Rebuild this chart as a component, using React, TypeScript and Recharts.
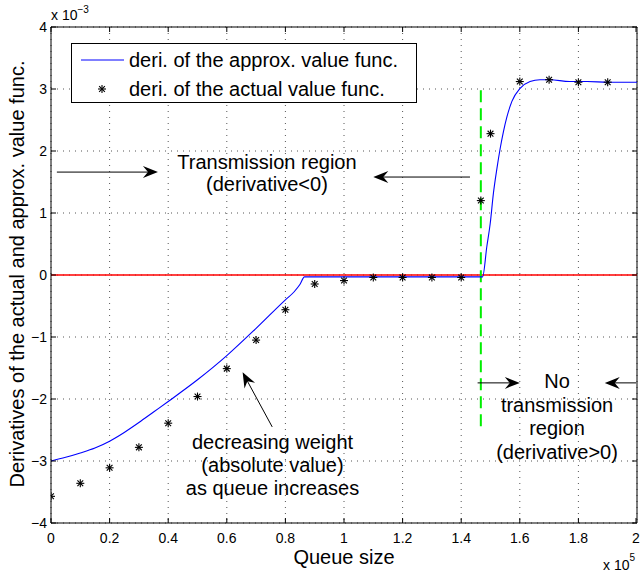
import React from "react";
import {
  CartesianGrid,
  ComposedChart,
  Legend,
  Line,
  ReferenceDot,
  ReferenceLine,
  Scatter,
  XAxis,
  YAxis
} from "recharts";

// queue size in units of 1e5, derivative in units of 1e-3
const approxQueue = [0, 0.05, 0.1, 0.15, 0.2, 0.25, 0.3, 0.35, 0.4, 0.5, 0.6, 0.7, 0.8, 0.83, 0.85, 0.865, 1.0, 1.2, 1.4, 1.473, 1.4875, 1.499, 1.51, 1.522, 1.533, 1.544, 1.556, 1.573, 1.601, 1.635, 1.669, 1.703, 1.77, 1.83, 1.9, 2.0];
const approxDeriv = [-3.0, -2.94, -2.87, -2.79, -2.68, -2.54, -2.38, -2.21, -2.04, -1.69, -1.3, -0.86, -0.4, -0.27, -0.15, -0.03, -0.03, -0.03, -0.03, -0.03, 0.46, 0.83, 1.32, 1.72, 2.04, 2.31, 2.55, 2.8, 3.01, 3.12, 3.15, 3.15, 3.12, 3.12, 3.11, 3.11];

const actualQueue = [0, 0.1, 0.2, 0.3, 0.4, 0.5, 0.6, 0.7, 0.8, 0.9, 1.0, 1.1, 1.2, 1.3, 1.4, 1.467, 1.5, 1.6, 1.7, 1.8, 1.9];
const actualDeriv = [-3.57, -3.36, -3.11, -2.78, -2.39, -1.96, -1.51, -1.05, -0.56, -0.145, -0.09, -0.04, -0.04, -0.04, -0.04, 1.2, 2.28, 3.12, 3.15, 3.11, 3.11];

const xTicks = [0, 0.2, 0.4, 0.6, 0.8, 1, 1.2, 1.4, 1.6, 1.8, 2];
const yTicks = [-4, -3, -2, -1, 0, 1, 2, 3, 4];

const threshold = 1.467;

const approxData = approxQueue.map((x, i) => ({ x, y: approxDeriv[i] }));
const actualData = actualQueue.map((x, i) => ({ x, y: actualDeriv[i] }));

const FONT = "'Liberation Sans', Arial, Helvetica, sans-serif";
const PLOT = { left: 51, top: 27, right: 637, bottom: 523 };

const Star = ({ cx, cy }: any) => {
  const r = 4;
  const d = r * 0.72;
  return (
    <g stroke="#000" strokeWidth={1.1}>
      <line x1={cx - r} y1={cy} x2={cx + r} y2={cy} />
      <line x1={cx} y1={cy - r} x2={cx} y2={cy + r} />
      <line x1={cx - d} y1={cy - d} x2={cx + d} y2={cy + d} />
      <line x1={cx - d} y1={cy + d} x2={cx + d} y2={cy - d} />
    </g>
  );
};

const fmt = (v: number) => (v < 0 ? "\u2212" + Math.abs(v) : String(v));

const XTick = (props: any) => {
  const { x, payload } = props;
  return (
    <g>
      <line x1={x} y1={PLOT.bottom} x2={x} y2={PLOT.bottom - 5} stroke="#000" />
      <line x1={x} y1={PLOT.top} x2={x} y2={PLOT.top + 5} stroke="#000" />
      <text x={x} y={PLOT.bottom + 15} textAnchor="middle" dominantBaseline="central" fontSize={14} fontFamily={FONT} fill="#000">
        {payload.value}
      </text>
    </g>
  );
};

const YTick = (props: any) => {
  const { y, payload } = props;
  return (
    <g>
      <line x1={PLOT.left} y1={y} x2={PLOT.left + 5} y2={y} stroke="#000" />
      <line x1={PLOT.right} y1={y} x2={PLOT.right - 5} y2={y} stroke="#000" />
      <text x={47} y={y} textAnchor="end" dominantBaseline="central" fontSize={14} fontFamily={FONT} fill="#000">
        {fmt(payload.value)}
      </text>
    </g>
  );
};

const YLabel = () => {
  const cx = 17;
  const cy = 274;
  return (
    <g fontFamily={FONT} fill="#000">
      <text x={cx} y={cy} transform={`rotate(-90 ${cx} ${cy})`} textAnchor="middle" dominantBaseline="central" fontSize={20}>
        Derivatives of the actual and approx. value func.
      </text>
      <text x={51} y={20} fontSize={14}>
        x 10<tspan dy={-7} fontSize={10}>{"\u22123"}</tspan>
      </text>
    </g>
  );
};

const XLabel = () => (
  <g fontFamily={FONT} fill="#000">
    <text x={344} y={557} textAnchor="middle" dominantBaseline="central" fontSize={20}>
      Queue size
    </text>
    <text x={603} y={570} fontSize={14}>
      x 10<tspan dy={-9} fontSize={10}>5</tspan>
    </text>
  </g>
);

const Arrow = (props: any) => {
  const { x1, y1, x2, y2 } = props;
  const a = Math.atan2(y2 - y1, x2 - x1);
  const c = Math.cos(a);
  const s = Math.sin(a);
  const len = 15;
  const half = 6;
  const notch = 10;
  const bx = x2 - len * c;
  const by = y2 - len * s;
  const nx = x2 - notch * c;
  const ny = y2 - notch * s;
  const pts = [
    [x2, y2],
    [bx - half * s, by + half * c],
    [nx, ny],
    [bx + half * s, by - half * c]
  ]
    .map((p) => p.join(","))
    .join(" ");
  return (
    <g>
      <line x1={x1} y1={y1} x2={nx} y2={ny} stroke="#000" strokeWidth={1} />
      <polygon points={pts} fill="#000" />
    </g>
  );
};

const TextBlock = (lines: string[], gap: number) => (props: any) => {
  const { cx, cy } = props;
  return (
    <g fontFamily={FONT} fontSize={20} fill="#000">
      {lines.map((t, i) => (
        <text key={i} x={cx} y={cy + i * gap} textAnchor="middle" dominantBaseline="central">
          {t}
        </text>
      ))}
    </g>
  );
};

const renderLegend = (props: any) => {
  const items = [...(props.payload || [])].sort(
    (a: any, b: any) => (a.type === "line" ? 0 : 1) - (b.type === "line" ? 0 : 1)
  );
  return (
    <div
      style={{
        width: 346,
        height: 60,
        boxSizing: "border-box",
        border: "1px solid #000",
        background: "#fff",
        fontFamily: FONT,
        fontSize: 20,
        position: "relative",
        color: "#000"
      }}
    >
      {items.map((entry: any, i: number) => (
        <div
          key={i}
          style={{ position: "absolute", left: 0, top: i === 0 ? 3 : 32, height: 26, display: "flex", alignItems: "center", whiteSpace: "nowrap" }}
        >
          <svg width={57} height={26}>
            {entry.type === "line" ? (
              <line x1={9} y1={13} x2={52} y2={13} stroke="#0000ff" strokeWidth={1} />
            ) : (
              <Star cx={30} cy={13} />
            )}
          </svg>
          <span>{entry.value}</span>
        </div>
      ))}
    </div>
  );
};

const arrows = [
  { from: { x: 0.02, y: 1.66 }, to: { x: 0.365, y: 1.66 } },
  { from: { x: 1.43, y: 1.58 }, to: { x: 1.1, y: 1.58 } },
  { from: { x: 1.456, y: -1.74 }, to: { x: 1.6, y: -1.74 } },
  { from: { x: 1.997, y: -1.74 }, to: { x: 1.89, y: -1.74 } },
  { from: { x: 0.755, y: -2.45 }, to: { x: 0.654, y: -1.57 } }
];

export default function App() {
  return (
    <div style={{ position: "absolute", left: 0, top: 0, width: 640, height: 577, background: "#fff" }}>
      <ComposedChart width={640} height={577} margin={{ top: 27, right: 3, left: 0, bottom: 0 }}>
        <CartesianGrid stroke="#555" strokeDasharray="1 5" />
        <XAxis
          type="number"
          dataKey="x"
          domain={[0, 2]}
          ticks={xTicks}
          height={54}
          tickLine={false}
          tickSize={0}
          axisLine={{ stroke: "#000" }}
          tick={XTick}
          label={XLabel}
          allowDataOverflow
        />
        <YAxis
          type="number"
          dataKey="y"
          domain={[-4, 4]}
          ticks={yTicks}
          width={51}
          tickLine={false}
          tickSize={0}
          axisLine={{ stroke: "#000" }}
          tick={YTick}
          label={YLabel}
          allowDataOverflow
        />
        <ReferenceLine y={4} stroke="#000" />
        <ReferenceLine x={2} stroke="#000" />
        <ReferenceLine y={0} stroke="#ff0000" strokeWidth={1.6} />
        <ReferenceLine
          segment={[{ x: threshold, y: 2.98 }, { x: threshold, y: -2.5 }]}
          stroke="#00ee00"
          strokeWidth={2}
          strokeDasharray="12 6"
        />
        <Line
          data={approxData}
          dataKey="y"
          name="deri. of the approx. value func."
          type="monotone"
          stroke="#0000ff"
          strokeWidth={1.1}
          dot={false}
          activeDot={false}
          legendType="line"
          isAnimationActive={false}
        />
        <Scatter
          data={actualData}
          dataKey="y"
          name="deri. of the actual value func."
          fill="#000"
          shape={(p: any) => <Star cx={p.cx} cy={p.cy} />}
          legendType="star"
          isAnimationActive={false}
        />
        {arrows.map((a, i) => (
          <ReferenceLine key={`arr-${i}`} segment={[a.from, a.to]} shape={Arrow} />
        ))}
        <ReferenceDot x={0.737} y={1.82} r={0} shape={TextBlock(["Transmission region", "(derivative<0)"], 22)} />
        <ReferenceDot x={1.727} y={-1.71} r={0} shape={TextBlock(["No", "transmission", "region", "(derivative>0)"], 23.6)} />
        <ReferenceDot x={0.756} y={-2.69} r={0} shape={TextBlock(["decreasing weight", "(absolute value)", "as queue increases"], 23.3)} />
        <Legend
          layout="vertical"
          align="center"
          verticalAlign="middle"
          content={renderLegend}
          wrapperStyle={{ left: 71, top: 43, width: 346, height: 60 }}
        />
      </ComposedChart>
    </div>
  );
}
